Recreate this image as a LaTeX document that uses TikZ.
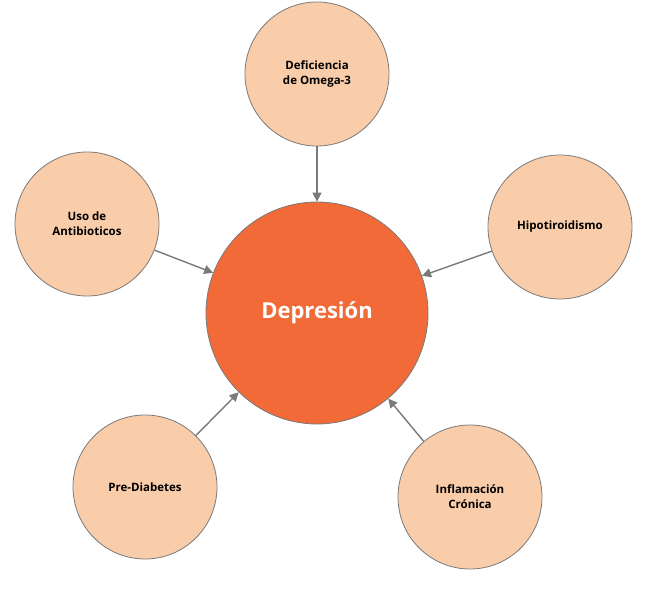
\documentclass[tikz,border=0pt]{standalone}
\usepackage{fontspec}
\setmainfont{Open Sans}
\usetikzlibrary{arrows.meta}
\definecolor{peach}{HTML}{F9CDAA}
\definecolor{hot}{HTML}{F26A37}
\definecolor{edge}{HTML}{7A7A7A}
\begin{document}
\begin{tikzpicture}[x=1pt,y=-1pt,
  small/.style={circle,draw=edge,line width=0.8pt,fill=peach,minimum size=144pt,inner sep=0pt,align=center,font=\bfseries\fontsize{11.5}{15}\selectfont},
  big/.style={circle,draw=edge,line width=0.8pt,fill=hot,minimum size=222pt,inner sep=0pt,text=white,font=\bfseries\fontsize{22}{26}\selectfont},
  arr/.style={draw=edge,line width=1.4pt,-{Triangle[length=9pt,width=9pt]}}]
\useasboundingbox (0,0) rectangle (646,594);
\node[big] (c) at (317,313) {Depresión};
\node[small] (t) at (317,74) {Deficiencia\\de Omega-3};
\node[small] (l) at (87,224) {Uso de\\Antibioticos};
\node[small] (r) at (560,227) {Hipotiroidismo};
\node[small] (bl) at (145,487) {Pre-Diabetes};
\node[small] (br) at (470,497) {Inflamación\\Crónica};
\draw[arr] (t) -- (c);
\draw[arr] (l) -- (c);
\draw[arr] (r) -- (c);
\draw[arr] (bl) -- (c);
\draw[arr] (br) -- (c);
\end{tikzpicture}
\end{document}
